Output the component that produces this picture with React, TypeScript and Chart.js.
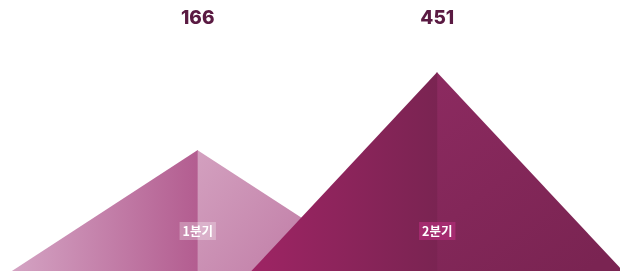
import React, { useEffect, useRef } from "react";
import { Chart, registerables } from "chart.js";

Chart.register(...registerables);

const categories = ["1분기", "2분기"];
const values = [166, 451];
const yMin = -276;
const yMax = 714;

const leftColors = [
  ["#d4a3c3", "#b35d90"],
  ["#9e2464", "#7a2452"],
];
const rightColors = [
  ["#d3a0bf", "#bd77a2"],
  ["#8c2a60", "#7a2452"],
];
const labelBoxColors = ["rgba(255,255,255,0.28)", "rgba(170,45,115,0.85)"];

const pyramidPlugin = {
  id: "pyramid",
  afterDatasetsDraw(chart: any) {
    const ctx = chart.ctx as CanvasRenderingContext2D;
    const meta = chart.getDatasetMeta(0);
    const bottom = chart.chartArea.bottom;
    meta.data.forEach((bar: any, i: number) => {
      const x = bar.x;
      const y = bar.y;
      const hw = bar.width * 0.776;
      ctx.save();
      let g = ctx.createLinearGradient(x, y, x + hw * 0.8, bottom);
      g.addColorStop(0, rightColors[i][0]);
      g.addColorStop(1, rightColors[i][1]);
      ctx.fillStyle = g;
      ctx.beginPath();
      ctx.moveTo(x - 0.5, y);
      ctx.lineTo(x + hw, bottom);
      ctx.lineTo(x - 0.5, bottom);
      ctx.closePath();
      ctx.fill();
      g = ctx.createLinearGradient(x - hw, 0, x, 0);
      g.addColorStop(0, leftColors[i][0]);
      g.addColorStop(1, leftColors[i][1]);
      ctx.fillStyle = g;
      ctx.beginPath();
      ctx.moveTo(x, y);
      ctx.lineTo(x - hw, bottom);
      ctx.lineTo(x, bottom);
      ctx.closePath();
      ctx.fill();
      ctx.restore();
    });
    meta.data.forEach((bar: any, i: number) => {
      const x = bar.x;
      ctx.save();
      ctx.font = "800 19px Inter, 'Noto Sans', sans-serif";
      ctx.fillStyle = "#5a1a42";
      ctx.textAlign = "center";
      ctx.textBaseline = "middle";
      ctx.fillText(String(values[i]), x, 18);

      ctx.font = "bold 12.5px 'Noto Sans CJK KR', sans-serif";
      const label = categories[i];
      const tw = ctx.measureText(label).width;
      const ly = bottom - 40;
      ctx.fillStyle = labelBoxColors[i];
      ctx.fillRect(x - tw / 2 - 3, ly - 9, tw + 6, 18);
      ctx.fillStyle = "#ffffff";
      ctx.fillText(label, x, ly + 0.5);
      ctx.restore();
    });
  },
};

export default function App() {
  const ref = useRef<HTMLCanvasElement | null>(null);
  useEffect(() => {
    document.body.style.margin = "0";
    const chart = new Chart(ref.current as HTMLCanvasElement, {
      type: "bar",
      data: {
        labels: categories,
        datasets: [
          {
            data: values,
            backgroundColor: "rgba(0,0,0,0)",
            barPercentage: 1,
            categoryPercentage: 1,
          },
        ],
      },
      options: {
        animation: false,
        responsive: false,
        maintainAspectRatio: false,
        layout: { padding: { left: 78, right: 63, top: 0, bottom: 0 } },
        plugins: { legend: { display: false }, tooltip: { enabled: false } },
        scales: {
          x: { display: false, offset: true },
          y: { display: false, min: yMin, max: yMax },
        },
      },
      plugins: [pyramidPlugin],
    });
    return () => chart.destroy();
  }, []);
  return (
    <div style={{ width: 620, height: 271 }}>
      <canvas ref={ref} width={620} height={271} />
    </div>
  );
}
